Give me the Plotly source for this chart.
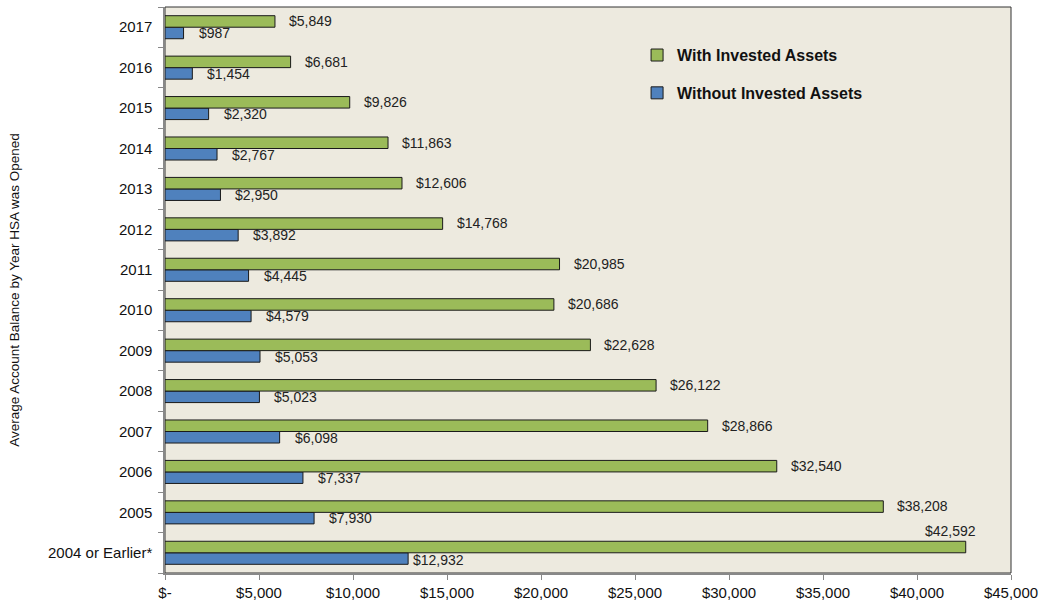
import plotly.graph_objects as go

categories = ["2004 or Earlier*", "2005", "2006", "2007", "2008", "2009", "2010",
              "2011", "2012", "2013", "2014", "2015", "2016", "2017"]
with_invested = [42592, 38208, 32540, 28866, 26122, 22628, 20686,
                 20985, 14768, 12606, 11863, 9826, 6681, 5849]
without_invested = [12932, 7930, 7337, 6098, 5023, 5053, 4579,
                    4445, 3892, 2950, 2767, 2320, 1454, 987]
x_tickvals = [0, 5000, 10000, 15000, 20000, 25000, 30000, 35000, 40000, 45000]
x_ticktext = ["$-", "$5,000", "$10,000", "$15,000", "$20,000", "$25,000",
              "$30,000", "$35,000", "$40,000", "$45,000"]

GREEN = "#9BBB59"
BLUE = "#4F81BD"
FONT = "Liberation Sans, Arial, sans-serif"

fig = go.Figure()
fig.add_trace(go.Bar(
    y=categories, x=without_invested, orientation="h", name="Without Invested Assets",
    marker=dict(color=BLUE, line=dict(color="#1a1a1a", width=1)),
    legendrank=2, legendgroup="b",
))
fig.add_trace(go.Bar(
    y=categories, x=with_invested, orientation="h", name="With Invested Assets",
    marker=dict(color=GREEN, line=dict(color="#1a1a1a", width=1)),
    legendrank=1, legendgroup="a",
))

def fmt(v):
    return "${:,}".format(v)

LBL = dict(family=FONT, size=14, color="#222")
annotations = []
for i, (g, b) in enumerate(zip(with_invested, without_invested)):
    if i == 0:
        annotations.append(dict(x=g, y=i, xref="x", yref="y", text=fmt(g), showarrow=False,
                                xanchor="center", yanchor="middle", xshift=-15, yshift=22,
                                font=LBL))
        annotations.append(dict(x=b, y=i, xref="x", yref="y", text=fmt(b), showarrow=False,
                                xanchor="left", yanchor="middle", xshift=3, yshift=-7,
                                font=LBL))
    else:
        annotations.append(dict(x=g, y=i, xref="x", yref="y", text=fmt(g), showarrow=False,
                                xanchor="left", yanchor="middle", xshift=12, yshift=6,
                                font=LBL))
        annotations.append(dict(x=b, y=i, xref="x", yref="y", text=fmt(b), showarrow=False,
                                xanchor="left", yanchor="middle", xshift=13, yshift=-6,
                                font=LBL))

fig.update_layout(
    width=1046, height=606,
    margin=dict(l=165, r=35, t=7, b=33, autoexpand=False),
    paper_bgcolor="white",
    plot_bgcolor="#EDEADF",
    barmode="group",
    bargap=0.43,
    bargroupgap=0,
    font=dict(family=FONT, size=14, color="#111"),
    showlegend=True,
    legend=dict(x=0.558, y=0.945, xanchor="left", yanchor="top",
                bgcolor="rgba(0,0,0,0)", tracegroupgap=14,
                font=dict(family=FONT, size=16, color="#111", weight="bold"),
                itemwidth=30),
    annotations=annotations,
    shapes=[dict(type="rect", xref="paper", yref="paper", x0=0, y0=0, x1=1, y1=1,
                 line=dict(color="#333", width=1), layer="below")],
    xaxis=dict(range=[0, 45000], tickvals=x_tickvals, ticktext=x_ticktext, automargin=False,
               showgrid=False, zeroline=False, showline=True, linecolor="#888", linewidth=1.5,
               ticks="outside", ticklen=5, tickcolor="#888",
               tickfont=dict(family=FONT, size=15, color="#111")),
    yaxis=dict(categoryorder="array", categoryarray=categories, type="category",
               range=[-0.5, 13.5], automargin=False,
               showgrid=False, showline=True, linecolor="#888", linewidth=1.5,
               ticks="outside", ticklen=5, tickcolor="#888", tickson="boundaries",
               ticklabelstandoff=8,
               tickfont=dict(family=FONT, size=15, color="#111"),
               title=dict(text="Average Account Balance by Year HSA was Opened",
                          font=dict(family=FONT, size=13.5, color="#111"), standoff=25)),
)

fig.write_html("out.html", post_script="document.body.style.margin='0';",
               config={"displayModeBar": False})
